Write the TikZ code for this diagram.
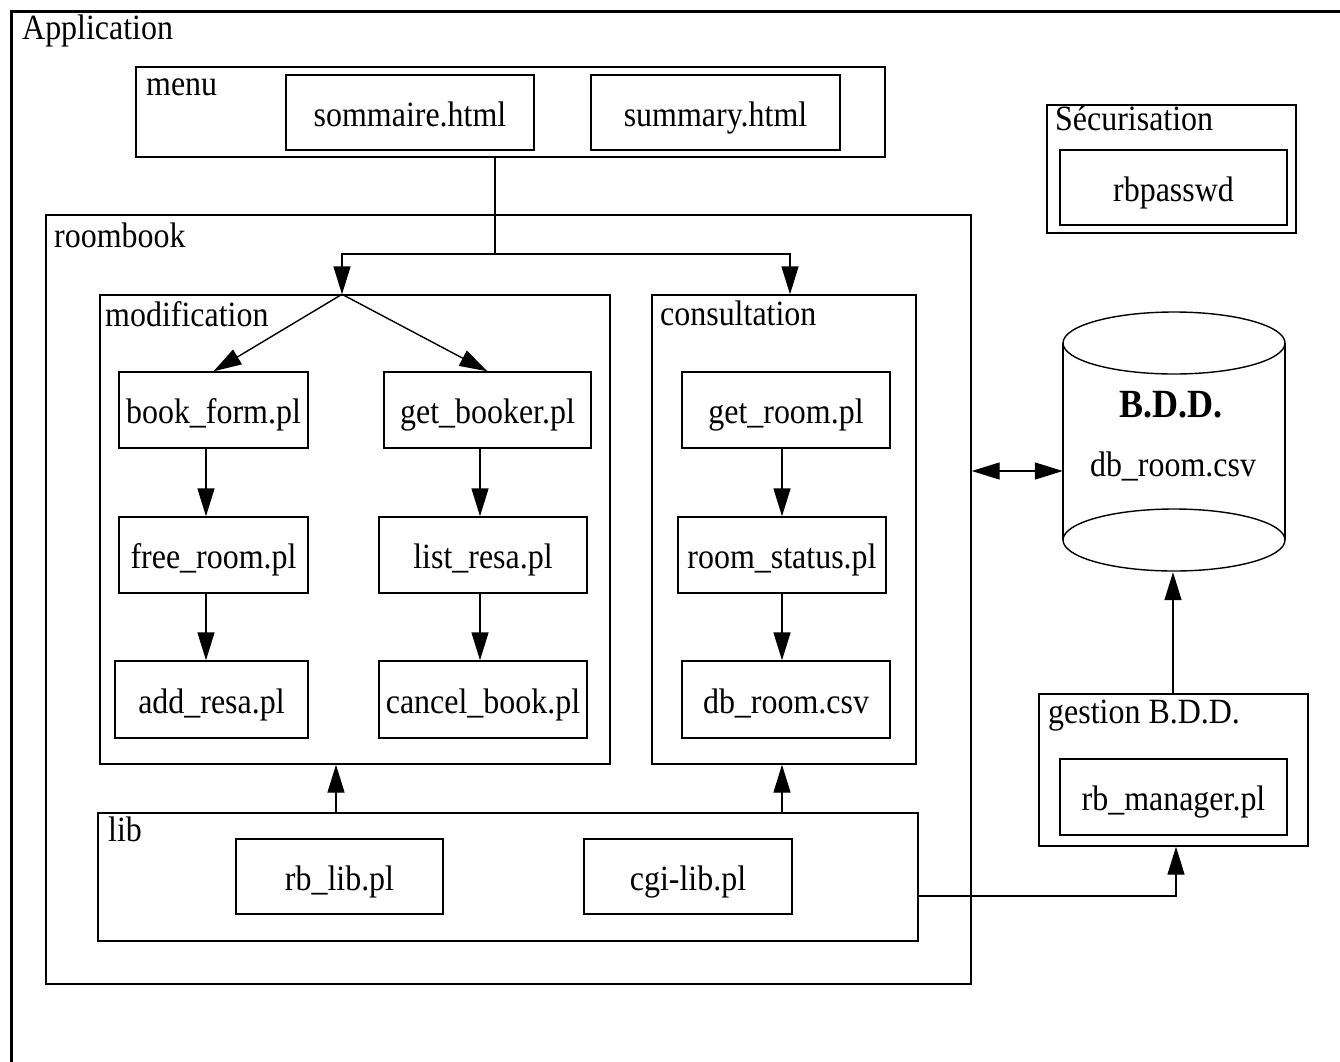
\documentclass[tikz,border=0pt]{standalone}
\usepackage{fontspec}
\setmainfont{Liberation Serif}[FakeStretch=0.9]
\usetikzlibrary{arrows.meta,calc}
\begin{document}
\begin{tikzpicture}[x=1pt,y=-1pt,
  every node/.style={font=\fontsize{35.5}{40}\selectfont},
  box/.style={draw, line width=1.4pt, inner sep=0pt, rectangle, text height=27pt, text depth=0pt},
  cont/.style={draw, line width=1.4pt, inner sep=0pt, rectangle},
  lbl/.style={anchor=base west, inner sep=0pt},
  ln/.style={line width=1.4pt},
  arr/.style={line width=1.4pt, -{Triangle[length=28pt,width=17pt]}},
  darr/.style={line width=1.4pt, {Triangle[length=28pt,width=17pt]}-{Triangle[length=28pt,width=17pt]}}]
\useasboundingbox (0,0) rectangle (1340,1061);
\clip (0,0) rectangle (1340,1061);
\fill[white] (0,0) rectangle (1340,1061);

% Application frame
\node[draw, line width=3pt, minimum width=1360pt, minimum height=1080pt, anchor=north west, inner sep=0pt] (app) at (10,10) {};
\node[lbl] (applbl) at (22,39) {Application};

% menu
\node[cont, minimum width=749pt, minimum height=90pt] (menu) at (510.5,112) {};
\node[lbl] (menulbl) at (146,95) {menu};
\node[box, minimum width=248pt, minimum height=75pt] (sommaire) at (410,112.5) {sommaire.html};
\node[box, minimum width=249pt, minimum height=75pt] (summary) at (715.5,112.5) {summary.html};

% Securisation
\node[cont, minimum width=249pt, minimum height=128pt] (secur) at (1171.5,169) {};
\node[lbl] (securlbl) at (1055,130) {Sécurisation};
\node[box, minimum width=227pt, minimum height=75pt] (rbpasswd) at (1173.5,187.5) {rbpasswd};

% roombook
\node[cont, minimum width=925pt, minimum height=769pt] (roombook) at (508.5,599.5) {};
\node[lbl] (roombooklbl) at (54,247) {roombook};

% modification
\node[cont, minimum width=510pt, minimum height=469pt] (modification) at (355,529.5) {};
\node[lbl] (modiflbl) at (105,326) {modification};
\node[box, minimum width=189pt, minimum height=76pt] (bookform) at (213.5,410) {book\_form.pl};
\node[box, minimum width=207pt, minimum height=76pt] (getbooker) at (487.5,410) {get\_booker.pl};
\node[box, minimum width=189pt, minimum height=76pt] (freeroom) at (213.5,555) {free\_room.pl};
\node[box, minimum width=208pt, minimum height=76pt] (listresa) at (483,555) {list\_resa.pl};
\node[box, minimum width=193pt, minimum height=77pt] (addresa) at (211.5,699.5) {add\_resa.pl};
\node[box, minimum width=208pt, minimum height=77pt] (cancelbook) at (483,699.5) {cancel\_book.pl};

% consultation
\node[cont, minimum width=264pt, minimum height=469pt] (consultation) at (784,529.5) {};
\node[lbl] (consultlbl) at (660,325) {consultation};
\node[box, minimum width=208pt, minimum height=76pt] (getroom) at (786,410) {get\_room.pl};
\node[box, minimum width=208pt, minimum height=76pt] (roomstatus) at (782,555) {room\_status.pl};
\node[box, minimum width=208pt, minimum height=77pt] (dbroomcsv) at (786,699.5) {db\_room.csv};

% lib
\node[cont, minimum width=820pt, minimum height=128pt] (lib) at (508,877) {};
\node[lbl] (liblbl) at (108,841) {lib};
\node[box, minimum width=207pt, minimum height=75pt] (rblib) at (339.5,876.5) {rb\_lib.pl};
\node[box, minimum width=208pt, minimum height=75pt] (cgilib) at (688,876.5) {cgi-lib.pl};

% gestion B.D.D.
\node[cont, minimum width=269pt, minimum height=152pt] (gestion) at (1173.5,770) {};
\node[lbl] (gestionlbl) at (1048,723) {gestion B.D.D.};
\node[box, minimum width=227pt, minimum height=76pt] (rbmanager) at (1173.5,797) {rb\_manager.pl};

% database cylinder
\node[minimum width=222pt, minimum height=259pt, inner sep=0pt] (db) at (1174,442.5) {};
\draw[ln] (1063,343) -- (1063,540) (1285,343) -- (1285,540);
\draw[ln] (1174,343) ellipse [x radius=111pt, y radius=31pt];
\draw[ln] (1174,540) ellipse [x radius=111pt, y radius=31pt];
\node[anchor=base, inner sep=0pt, font=\fontsize{40}{44}\selectfont\bfseries] (bdd) at (1171,417) {B.D.D.};
\node[anchor=base, inner sep=0pt] (dbcsv) at (1173,476) {db\_room.csv};

% helper coordinates
\coordinate (sx) at (495,0);
\coordinate (split) at (495,254);
\coordinate (mx) at (342,0);
\coordinate (cx) at (790,0);
\coordinate (c1) at (206,0);
\coordinate (c2) at (480,0);
\coordinate (c3) at (782,0);
\coordinate (l1) at (336,0);
\coordinate (l2) at (782,0);
\coordinate (dby) at (0,471);
\coordinate (gx) at (1173,0);
\coordinate (gx2) at (1176,0);
\coordinate (ly) at (0,896);

% connectors
\draw[ln] (menu.south -| sx) -- (split);
\draw[arr] (split) -| (modification.north -| mx);
\draw[arr] (split) -| (consultation.north -| cx);
\draw[arr] (modification.north -| mx) -- (bookform.north);
\draw[arr] (modification.north -| mx) -- (getbooker.north);
\draw[arr] (bookform.south -| c1) -- (freeroom.north -| c1);
\draw[arr] (freeroom.south -| c1) -- (addresa.north -| c1);
\draw[arr] (getbooker.south -| c2) -- (listresa.north -| c2);
\draw[arr] (listresa.south -| c2) -- (cancelbook.north -| c2);
\draw[arr] (getroom.south -| c3) -- (roomstatus.north -| c3);
\draw[arr] (roomstatus.south -| c3) -- (dbroomcsv.north -| c3);
\draw[arr] (lib.north -| l1) -- (modification.south -| l1);
\draw[arr] (lib.north -| l2) -- (consultation.south -| l2);
\draw[darr] (roombook.east |- dby) -- (db.west |- dby);
\draw[arr] (gestion.north -| gx) -- (db.south -| gx);
\draw[arr] (lib.east |- ly) -| (gestion.south -| gx2);
\end{tikzpicture}
\end{document}
